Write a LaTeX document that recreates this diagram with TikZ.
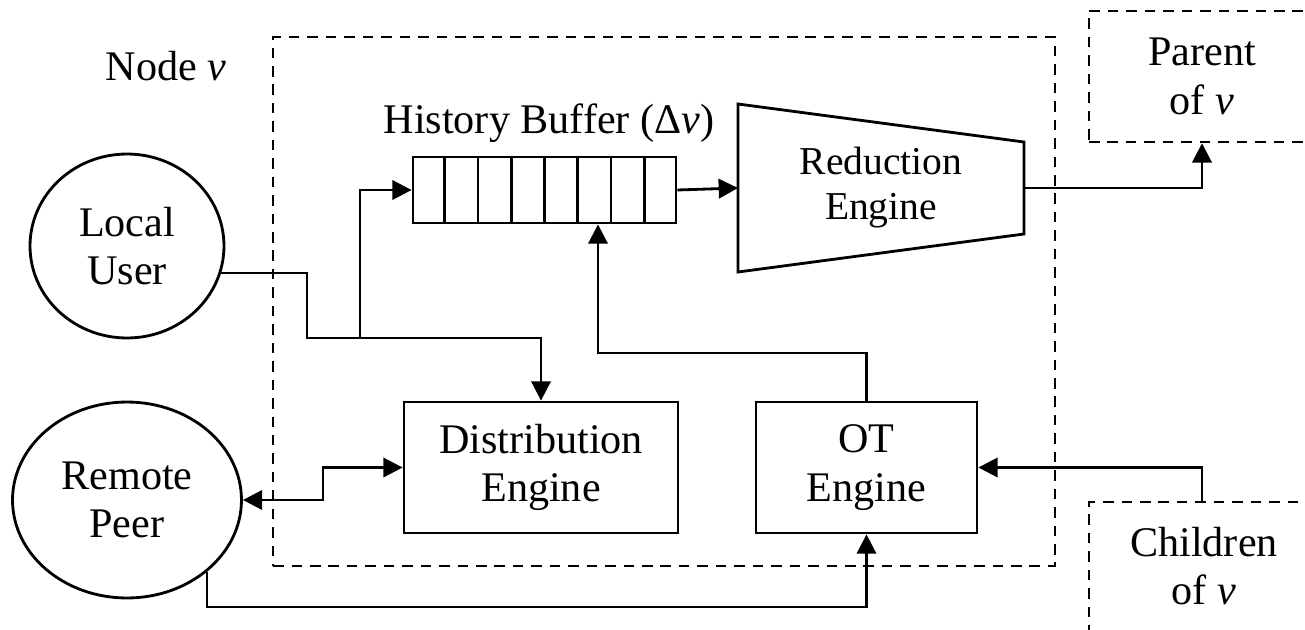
\documentclass[tikz,border=0pt]{standalone}
\usepackage{fontspec}
\setmainfont{Liberation Serif}
\usetikzlibrary{arrows.meta,shapes.geometric,calc}

\begin{document}
\begin{tikzpicture}[x=0.02cm,y=-0.02cm,
  line width=1.6pt,
  >={Triangle[length=11pt,width=11pt]},
  txt/.style={font=\fontsize{24}{27.5}\selectfont, align=center},
  enginebox/.style={draw, txt, minimum height=2.62cm, inner sep=0pt},
  ellip/.style={draw, ellipse, txt, inner sep=0pt},
  dashbox/.style={draw, dash pattern=on 6pt off 4.5pt, line width=1.4pt}
]
\useasboundingbox (0,0) rectangle (1305,629);

% main dashed boundary of node v
\node[dashbox, minimum width=15.64cm, minimum height=10.58cm, inner sep=0pt] (nodev) at (664,301.5) {};
\node[txt, anchor=base] (nodevlabel) at (166,80) {Node \textit{v}};

% outside entities
\node[ellip, minimum width=3.88cm, minimum height=3.68cm] (local) at (127,246) {Local\\User};
\node[ellip, minimum width=4.58cm, minimum height=3.92cm] (remote) at (127,500) {Remote\\Peer};

\node[dashbox, txt, minimum width=4.52cm, minimum height=2.62cm, inner sep=0pt] (parent) at (1202,76.5) {Parent\\of \textit{v}};
\node[dashbox, minimum width=4.52cm, minimum height=4cm, inner sep=0pt, anchor=north] (children) at (1202,501) {};
\node[txt] (childlabel) at (1204,566) {Children\\of \textit{v}};

% history buffer
\node[draw, minimum width=5.26cm, minimum height=1.32cm, inner sep=0pt] (buf) at (544.5,190) {};
\foreach \i in {1,...,7}
  \draw ($(buf.north west)!\i/8!(buf.north east)$) -- ($(buf.south west)!\i/8!(buf.south east)$);
\node[txt, anchor=base] (buflabel) at (549,133) {History Buffer (Δ\textit{v})};

% reduction engine
\coordinate (r1) at (738,104);
\coordinate (r2) at (1024,142);
\coordinate (r3) at (1024,234);
\coordinate (r4) at (738,272);
\draw (r1) -- (r2) -- (r3) -- (r4) -- cycle;
\coordinate (redin) at (738,188);
\coordinate (redout) at (1024,188);
\node[txt, font=\fontsize{22.5}{25.5}\selectfont] (red) at (881,187.5) {Reduction\\Engine};

% engines
\node[enginebox, minimum width=5.48cm] (dist) at (541,467.5) {Distribution\\Engine};
\node[enginebox, minimum width=4.42cm] (ot) at (866.5,467.5) {OT\\Engine};

% junction points
\coordinate (j1) at (307,338);
\coordinate (split) at (360,338);
\coordinate (j3) at (598,353);
\coordinate (j4) at (323,467.5);
\coordinate (j5) at (ot.south |- 0,607);

% connectors
\draw[->] (local.-16) -| (j1) -| (dist.north);
\draw[->] (split) |- (buf.west);
\draw[->] (buf.east) -- (redin);
\draw[->] (redout) -| (parent.south);
\draw[->] (ot.north) |- (j3) -- (buf.south -| j3);
\draw[->] (children.north) |- (ot.east);
\draw[<->] (remote.east) -| (j4) -- (dist.west);
\draw[->] (remote.-42) |- (j5) -- (ot.south);
\end{tikzpicture}
\end{document}
